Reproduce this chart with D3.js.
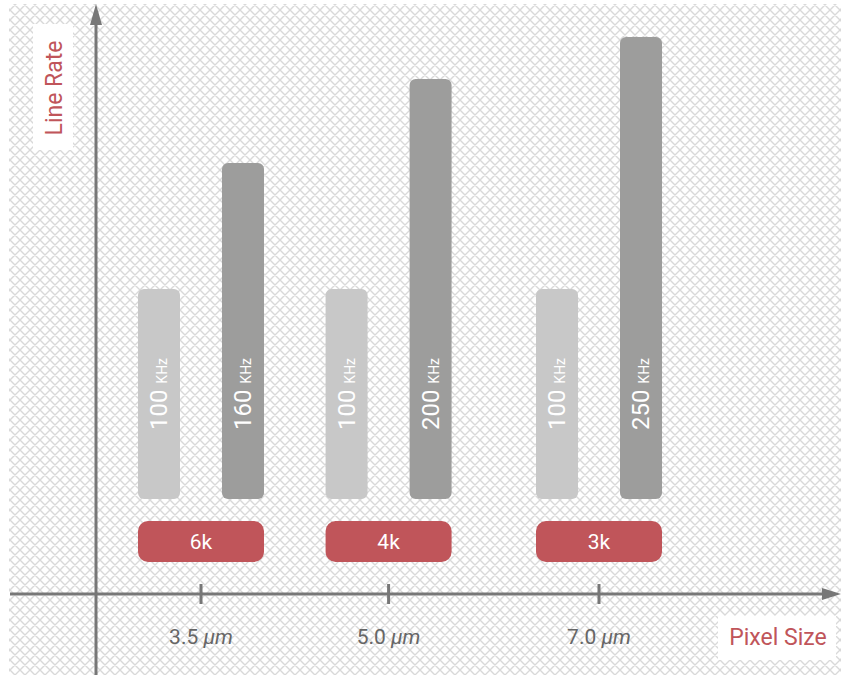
<!DOCTYPE html>
<html>
<head>
<meta charset="utf-8">
<script src="https://cdn.jsdelivr.net/npm/d3@7"></script>
<style>
  html, body { margin: 0; padding: 0; background: #fff; }
  svg { display: block; font-family: Roboto, "Open Sans", sans-serif; }
</style>
</head>
<body>
<svg id="chart" width="841" height="675"></svg>
<script>
// Pixel size groups (µm), resolution labels and line rates (kHz)
const pixelSizes = [3.5, 5.0, 7.0];
const pixelLabels = ["3.5", "5.0", "7.0"];
const resolutions = ["6k", "4k", "3k"];
const baseRate = [100, 100, 100];
const maxRate = [160, 200, 250];

const svg = d3.select("#chart");
const W = 841, H = 675;

// crosshatch background
const T = 10;
const defs = svg.append("defs");
const pat = defs.append("pattern")
  .attr("id", "hatch")
  .attr("patternUnits", "userSpaceOnUse")
  .attr("width", T).attr("height", T);
pat.append("path")
  .attr("d", `M0,0L${T},${T}M${T},0L0,${T}M-1,${T - 1}L1,${T + 1}M${T - 1},-1L${T + 1},1M-1,1L1,-1M${T - 1},${T + 1}L${T + 1},${T - 1}`)
  .attr("stroke", "#d9d9d9").attr("stroke-width", 1.4).attr("fill", "none");

svg.append("rect").attr("width", W).attr("height", H).attr("fill", "#fff");
svg.append("rect").attr("x", 9).attr("y", 4).attr("width", W - 9).attr("height", H - 4)
  .attr("fill", "url(#hatch)");

const x = d3.scaleSqrt().domain([3.5, 7.0]).range([201, 599]);
const y = d3.scaleLinear().domain([0, 220]).range([499, 37]).clamp(true);

const barW = 42, offset = 42;
const light = "#c8c8c8", dark = "#9d9d9c", red = "#c0555a";

// Axis label backgrounds
svg.append("rect").attr("x", 33).attr("y", 24).attr("width", 40).attr("height", 126).attr("fill", "#fff");
svg.append("rect").attr("x", 718).attr("y", 616).attr("width", 118).attr("height", 44).attr("fill", "#fff");

// Axes
const axisColor = "#777";
svg.append("line").attr("x1", 96).attr("x2", 96).attr("y1", 20).attr("y2", H)
  .attr("stroke", axisColor).attr("stroke-width", 3);
svg.append("path").attr("d", "M96,4L102,25L90,25Z").attr("fill", axisColor);
svg.append("line").attr("x1", 10).attr("x2", 826).attr("y1", 594).attr("y2", 594)
  .attr("stroke", axisColor).attr("stroke-width", 3);
svg.append("path").attr("d", "M841,594L822,588L822,600Z").attr("fill", axisColor);

// x ticks
const g = svg.selectAll("g.grp").data(pixelSizes).join("g").attr("class", "grp");
g.append("line")
  .attr("x1", d => x(d)).attr("x2", d => x(d))
  .attr("y1", 584).attr("y2", 604)
  .attr("stroke", axisColor).attr("stroke-width", 3);
const tl = g.append("text")
  .attr("x", d => x(d)).attr("y", 644)
  .attr("text-anchor", "middle")
  .attr("fill", "#666").attr("font-size", 21);
tl.append("tspan").text((d, i) => pixelLabels[i] + " ");
tl.append("tspan").attr("font-style", "italic").text("µm");

// bars
function bar(sel, vals, dx, color) {
  sel.append("path")
    .attr("fill", color)
    .attr("d", (d, i) => {
      const x0 = x(d) + dx - barW / 2, y0 = y(vals[i]), h = y(0) - y0, r = 6;
      const p = d3.path();
      p.moveTo(x0 + r, y0);
      p.lineTo(x0 + barW - r, y0);
      p.arcTo(x0 + barW, y0, x0 + barW, y0 + r, r);
      p.lineTo(x0 + barW, y0 + h - r);
      p.arcTo(x0 + barW, y0 + h, x0 + barW - r, y0 + h, r);
      p.lineTo(x0 + r, y0 + h);
      p.arcTo(x0, y0 + h, x0, y0 + h - r, r);
      p.lineTo(x0, y0 + r);
      p.arcTo(x0, y0, x0 + r, y0, r);
      p.closePath();
      return p.toString();
    });
  const t = sel.append("text")
    .attr("transform", d => `translate(${x(d) + dx + 8},394) rotate(-90)`)
    .attr("text-anchor", "middle")
    .attr("fill", "#fff");
  t.append("tspan").attr("font-size", 24).text((d, i) => vals[i] + " ");
  t.append("tspan").attr("font-size", 14).text("KHz");
}
bar(g, baseRate, -offset, light);
bar(g, maxRate, offset, dark);

// resolution pills
g.append("rect")
  .attr("x", d => x(d) - offset - barW / 2)
  .attr("width", 2 * offset + barW)
  .attr("y", 521).attr("height", 41)
  .attr("rx", 10).attr("fill", red);
g.append("text")
  .attr("x", d => x(d)).attr("y", 549)
  .attr("text-anchor", "middle").attr("fill", "#fff").attr("font-size", 21)
  .text((d, i) => resolutions[i]);

// axis titles
svg.append("text")
  .attr("transform", "translate(62,88) rotate(-90)")
  .attr("text-anchor", "middle").attr("fill", red).attr("font-size", 23)
  .text("Line Rate");
svg.append("text")
  .attr("x", 778).attr("y", 645)
  .attr("text-anchor", "middle").attr("fill", red).attr("font-size", 23)
  .text("Pixel Size");
</script>
</body>
</html>
